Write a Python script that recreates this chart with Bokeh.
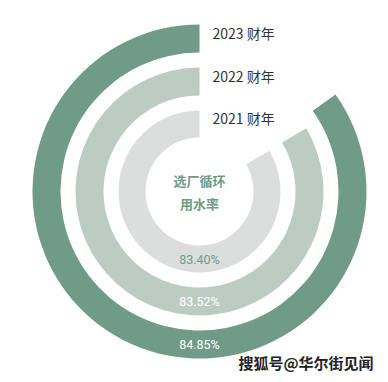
from bokeh.plotting import figure
from bokeh.models import Range1d, ColumnDataSource
from bokeh.core.properties import value
from bokeh.embed import file_html
from bokeh.resources import INLINE
import math

# data
years = ["2023 财年", "2022 财年", "2021 财年"]
rates = [84.85, 83.52, 83.40]
pct_labels = ["84.85%", "83.52%", "83.40%"]
colors = ["#6f9b87", "#bdccc3", "#dcdedd"]
pct_colors = ["#ffffff", "#ffffff", "#6f9b87"]
center_title = ["选厂循环", "用水率"]
watermark = "搜狐号@华尔街见闻"

# layout (pixel-like data units)
cx, cy = 199, -191
inner_r = [139, 96, 54]
outer_r = [167, 124, 81]

p = figure(width=380, height=374, output_backend="svg", toolbar_location=None,
           x_range=Range1d(0, 380), y_range=Range1d(-374, 0),
           min_border=0)
p.axis.visible = False
p.grid.visible = False
p.outline_line_color = None
p.background_fill_color = "white"
p.border_fill_color = "white"

start = [math.pi / 2] * 3
end = [math.pi / 2 + r / 100 * 2 * math.pi for r in rates]
src = ColumnDataSource(dict(x=[cx] * 3, y=[cy] * 3, ir=inner_r, orr=outer_r,
                            s=start, e=end, c=colors))
p.annular_wedge(x="x", y="y", inner_radius="ir", outer_radius="orr",
                start_angle="s", end_angle="e", direction="anticlock",
                fill_color="c", line_color=None, source=src)

mid = [(a + b) / 2 for a, b in zip(inner_r, outer_r)]

# year labels
p.text(x=[cx + 13] * 3, y=[cy + m + 6 for m in mid], text=years,
       text_font=value("Noto Sans CJK SC"), text_font_size="14px",
       text_color="#333333", text_baseline="middle", text_align="left")

# percentage labels
p.text(x=[cx] * 3, y=[cy - m for m in mid], text=pct_labels,
       text_font=value("Roboto"),
       text_font_size="12.5px", text_color=pct_colors,
       text_baseline="middle", text_align="center")

# center title
p.text(x=[cx, cx], y=[cy + 11.5, cy - 11.5], text=center_title,
       text_font=value("Noto Sans CJK SC"), text_font_size="13px",
       text_font_style="bold", text_color="#6f9b87",
       text_baseline="middle", text_align="center")

# watermark
p.text(x=[373], y=[-362], text=[watermark],
       text_font=value("Noto Sans CJK SC"), text_font_size="15px",
       text_font_style="bold", text_color="#222222",
       text_baseline="middle", text_align="right")

open("out.html", "w").write(file_html(p, INLINE))
